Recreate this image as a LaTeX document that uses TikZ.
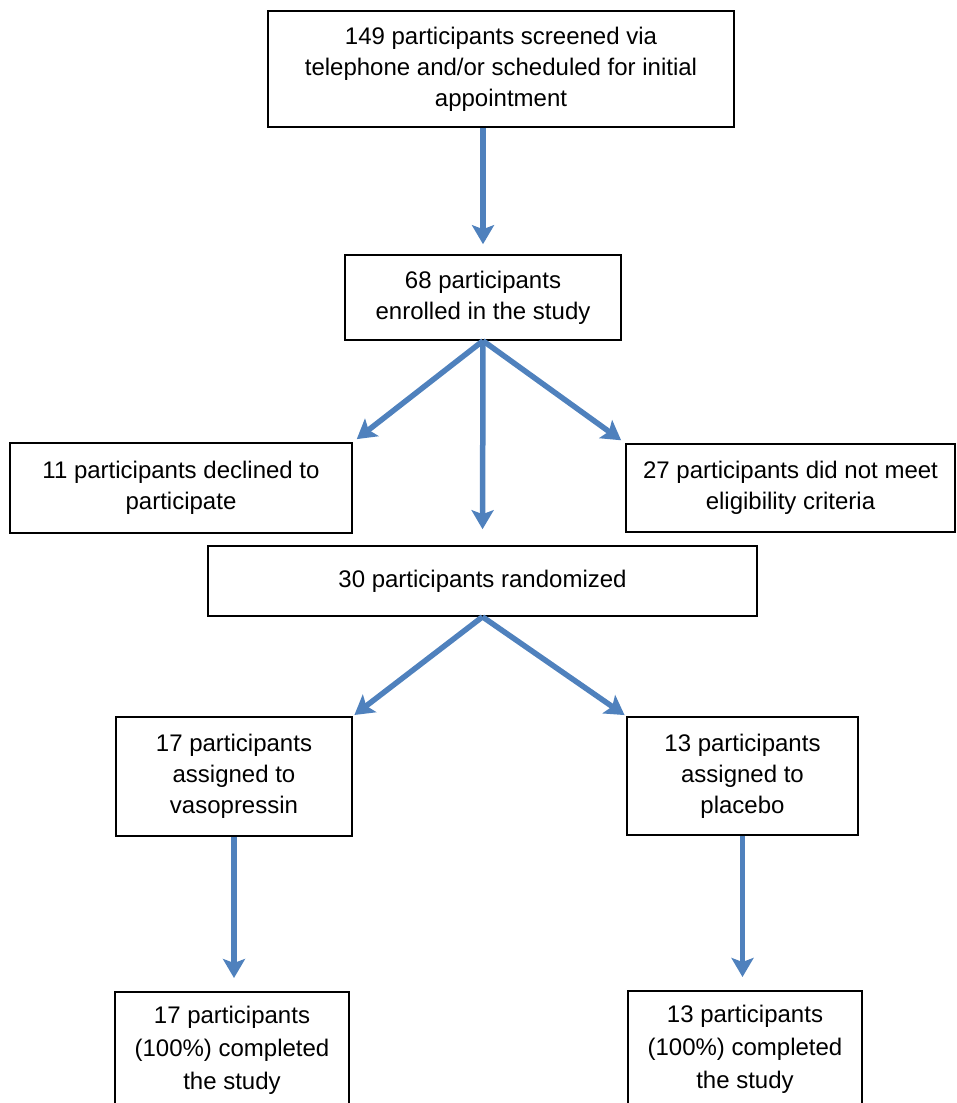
\documentclass[tikz,border=0pt]{standalone}
\usepackage{fontspec}
\setmainfont{Liberation Sans}
\usepackage{xcolor}
\usepackage{tikz}
\usetikzlibrary{arrows.meta}

\definecolor{arrowblue}{RGB}{79,129,189}

\begin{document}
\begin{tikzpicture}[x=1pt, y=1pt]
        \tikzstyle{block} = [rectangle, draw, line width=1.6pt, align=center, inner sep=0pt, font=\fontsize{24}{31}\selectfont]
        \tikzstyle{line} = [draw, -{Stealth[length=19pt, width=22pt, inset=4pt]}, line width=5.5pt, arrowblue]

        \useasboundingbox (0,0) rectangle (957,-1103);
        \clip (0,0) rectangle (957,-1103);

        \node [block, minimum width=466, minimum height=116] (screen) at (501,-69) {149 participants screened via\\telephone and/or scheduled for initial\\appointment};
        \node [block, minimum width=276, minimum height=85] (enrol) at (483,-297.5) {68 participants\\enrolled in the study};
        \node [block, minimum width=342, minimum height=90] (declined) at (181,-488) {11 participants declined to\\participate};
        \node [block, minimum width=329, minimum height=88] (ineligible) at (790.5,-488) {27 participants did not meet\\eligibility criteria};
        \node [block, minimum width=549, minimum height=70] (random) at (482.5,-581) {30 participants randomized};
        \node [block, minimum width=236, minimum height=119] (vaso) at (234,-776.5) {17 participants\\assigned to\\vasopressin};
        \node [block, minimum width=231, minimum height=118] (placebo) at (742.5,-776) {13 participants\\assigned to\\placebo};
        \node [block, minimum width=234, anchor=north, inner ysep=14pt, text depth=80, font=\fontsize{24}{33}\selectfont] (vasodone) at (232,-991) {17 participants\\(100\%) completed\\the study};
        \node [block, minimum width=234, anchor=north, inner ysep=14pt, text depth=80, font=\fontsize{24}{33}\selectfont] (placebodone) at (745,-990) {13 participants\\(100\%) completed\\the study};

        \path [line, shorten >=10pt] (screen.south -| enrol.north) -- (enrol.north);
        \path [line, shorten >=5pt] (enrol.south) -- (declined.north east);
        \path [line, shorten >=5pt] (enrol.south) -- (ineligible.north west);
        \path [line, shorten >=16pt] (enrol.south) -- (random.north);
        \path [line, shorten >=2pt] (random.south) -- (vaso.north east);
        \path [line, shorten >=2pt] (random.south) -- (placebo.north west);
        \path [line, shorten >=13pt] (vaso.south) -- (vaso.south |- vasodone.north);
        \path [line, shorten >=13pt] (placebo.south) -- (placebo.south |- placebodone.north);
    \end{tikzpicture}
\end{document}
